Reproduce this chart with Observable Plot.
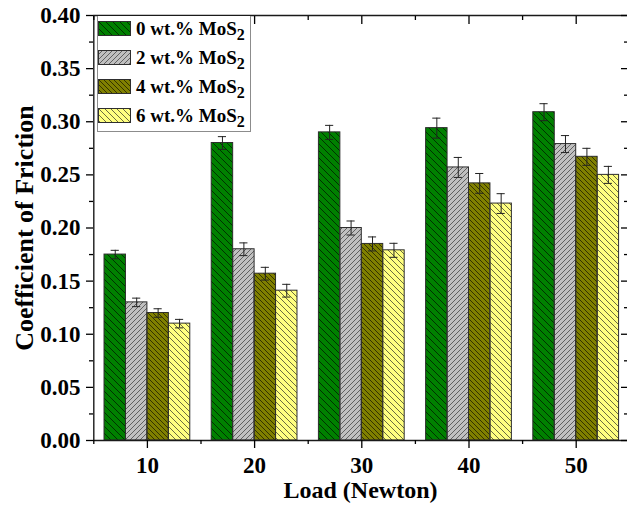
<!DOCTYPE html>
<html>
<head>
<meta charset="utf-8">
<script src="https://cdn.jsdelivr.net/npm/d3@7"></script>
<script src="https://cdn.jsdelivr.net/npm/@observablehq/plot@0.6"></script>
<style>
  body { margin: 0; background: #fff; }
  #chart { position: relative; width: 627px; height: 508px; font-family: "Liberation Serif", "Times New Roman", serif; font-weight: bold; color: #000; }
  #legend { position: absolute; left: 97px; top: 16px; width: 154px; height: 116px; box-sizing: border-box;
            border: 1px solid #8c8c8c; border-top: none; background: #fff; }
  #legend .row { display: flex; align-items: center; height: 29px; }
  #legend .row:first-child { margin-top: -2px; }
  #legend svg { display: block; flex: none; }
  #legend span.lab { margin-left: 5px; font-size: 19px; line-height: 1; white-space: nowrap; }
  #legend sub { font-size: 16px; vertical-align: -5px; line-height: 0; }
</style>
</head>
<body>
<svg width="0" height="0" style="position:absolute">
  <defs id="hatches"></defs>
</svg>
<div id="chart"></div>
<script>
// Coefficient of friction of the composites at each load, per MoS2 content
const loads = [10, 20, 30, 40, 50];
const mos2Content = [0, 2, 4, 6];

const cof0 = [0.175, 0.280, 0.290, 0.294, 0.309];
const cof2 = [0.130, 0.180, 0.200, 0.257, 0.279];
const cof4 = [0.120, 0.157, 0.185, 0.242, 0.267];
const cof6 = [0.110, 0.141, 0.179, 0.223, 0.250];

const err0 = [0.004, 0.006, 0.0066, 0.0094, 0.008];
const err2 = [0.004, 0.006, 0.0066, 0.0094, 0.008];
const err4 = [0.004, 0.006, 0.0066, 0.0093, 0.008];
const err6 = [0.004, 0.006, 0.0066, 0.0093, 0.008];

const yMajorTicks = [0, 0.05, 0.10, 0.15, 0.20, 0.25, 0.30, 0.35, 0.40];
const yMinorTicks = [0.025, 0.075, 0.125, 0.175, 0.225, 0.275, 0.325, 0.375];
const xMinorTicks = [5, 15, 25, 35, 45, 55];

// Fill colours and hatch styles for each series
const palette = ["#008000", "#c0c0c0", "#808000", "#ffff80"];
const hatchInk = ["#002800", "#555555", "#2a2a00", "#5a5a3a"];
const hatchDir = ["back", "fwd", "back", "back"];
const hatchGap = [7, 5, 5, 6];

// Build SVG hatch patterns
const defs = document.getElementById("hatches");
const NS = "http://www.w3.org/2000/svg";
hatchGap.forEach((s, i) => {
  const p = document.createElementNS(NS, "pattern");
  p.setAttribute("id", `hatch-${i}`);
  p.setAttribute("patternUnits", "userSpaceOnUse");
  p.setAttribute("width", s);
  p.setAttribute("height", s);
  const path = document.createElementNS(NS, "path");
  const d = hatchDir[i] === "back"
    ? `M-1,-1L${s + 1},${s + 1}M-1,${s - 1}L1,${s + 1}M${s - 1},-1L${s + 1},1`
    : `M-1,${s + 1}L${s + 1},-1M-1,1L1,-1M${s - 1},${s + 1}L${s + 1},${s - 1}`;
  path.setAttribute("d", d);
  path.setAttribute("stroke", hatchInk[i]);
  path.setAttribute("stroke-width", "0.9");
  path.setAttribute("fill", "none");
  p.appendChild(path);
  defs.appendChild(p);
});

// Long-format table: one row per bar, bars grouped side by side around each load
const values = [cof0, cof2, cof4, cof6];
const errors = [err0, err2, err4, err6];
const barWidth = 2;
const rows = [];
mos2Content.forEach((c, i) => {
  loads.forEach((load, j) => {
    const x1 = load + (i - mos2Content.length / 2) * barWidth;
    rows.push({content: c, i, load, x1, x2: x1 + barWidth, mid: x1 + barWidth / 2,
               value: values[i][j], err: errors[i][j]});
  });
});

const capHalf = 0.38;
const blank = () => "";

const chart = Plot.plot({
  width: 627,
  height: 508,
  marginLeft: 93,
  marginRight: 0,
  marginTop: 15,
  marginBottom: 68,
  x: {domain: [5, 55], range: [93.3, 629.3]},
  y: {domain: [0, 0.4]},
  color: {type: "identity"},
  style: {fontFamily: '"Liberation Serif", "Times New Roman", serif', fontWeight: "bold", color: "#000", background: "#fff", overflow: "hidden"},
  marks: [
    Plot.rectY(rows, {x1: "x1", x2: "x2", y1: 0, y2: "value", fill: d => palette[d.i]}),
    Plot.rectY(rows, {x1: "x1", x2: "x2", y1: 0, y2: "value", fill: d => `url(#hatch-${d.i})`,
                      stroke: "#2e2e2e", strokeWidth: 1}),
    // error bars
    Plot.ruleX(rows, {x: "mid", y1: d => d.value - d.err, y2: d => d.value + d.err, stroke: "#222", strokeWidth: 1}),
    Plot.ruleY(rows, {y: d => d.value + d.err, x1: d => d.mid - capHalf, x2: d => d.mid + capHalf, stroke: "#222", strokeWidth: 1}),
    Plot.ruleY(rows, {y: d => d.value - d.err, x1: d => d.mid - capHalf, x2: d => d.mid + capHalf, stroke: "#222", strokeWidth: 1}),
    // axis lines
    Plot.ruleY([0], {stroke: "#1a1a1a", strokeWidth: 1.4}),
    Plot.ruleY([0.4], {stroke: "#1a1a1a", strokeWidth: 1.4}),
    Plot.ruleX([5], {stroke: "#1a1a1a", strokeWidth: 1.4}),
    // left axis
    Plot.axisY(yMajorTicks, {tickSize: 7, tickPadding: 6, tickFormat: d3.format(".2f"), fontSize: 23, label: null, strokeWidth: 1.3}),
    Plot.axisY(yMinorTicks, {tickSize: 4, tickFormat: blank, label: null, strokeWidth: 1.3}),
    // right axis, ticks pointing inward
    Plot.axisY(yMajorTicks, {anchor: "right", tickSize: 7, dx: -7, tickFormat: blank, label: null, strokeWidth: 1.3}),
    Plot.axisY(yMinorTicks, {anchor: "right", tickSize: 4, dx: -4, tickFormat: blank, label: null, strokeWidth: 1.3}),
    // bottom axis
    Plot.axisX(loads, {tickSize: 8, tickPadding: 8, fontSize: 23, label: null, strokeWidth: 1.3}),
    Plot.axisX(xMinorTicks, {tickSize: 4, tickFormat: blank, label: null, strokeWidth: 1.3}),
    // top axis, ticks pointing inward
    Plot.axisX(loads, {anchor: "top", tickSize: 8, dy: 8, tickFormat: blank, label: null, strokeWidth: 1.3}),
    Plot.axisX(xMinorTicks, {anchor: "top", tickSize: 4, dy: 4, tickFormat: blank, label: null, strokeWidth: 1.3}),
    // axis titles
    Plot.text(["Load (Newton)"], {text: d => d, frameAnchor: "bottom", lineAnchor: "bottom", textAnchor: "middle", dy: 57, fontSize: 24, fontWeight: "bold"}),
    Plot.text(["Coefficient of Friction"], {text: d => d, frameAnchor: "left", rotate: -90, lineAnchor: "bottom", textAnchor: "middle", dx: -61, fontSize: 26, fontWeight: "bold"})
  ]
});

const root = document.getElementById("chart");
root.appendChild(chart);

// Legend
const legend = document.createElement("div");
legend.id = "legend";
mos2Content.forEach((c, i) => {
  const row = document.createElement("div");
  row.className = "row";
  row.innerHTML =
    `<svg width="33" height="15"><rect x="0.5" y="0.5" width="32" height="14" fill="${palette[i]}"/>` +
    `<rect x="0.5" y="0.5" width="32" height="14" fill="url(#hatch-${i})" stroke="#2e2e2e" stroke-width="1"/></svg>` +
    `<span class="lab">${c} wt.% MoS<sub>2</sub></span>`;
  legend.appendChild(row);
});
root.appendChild(legend);
</script>
</body>
</html>
